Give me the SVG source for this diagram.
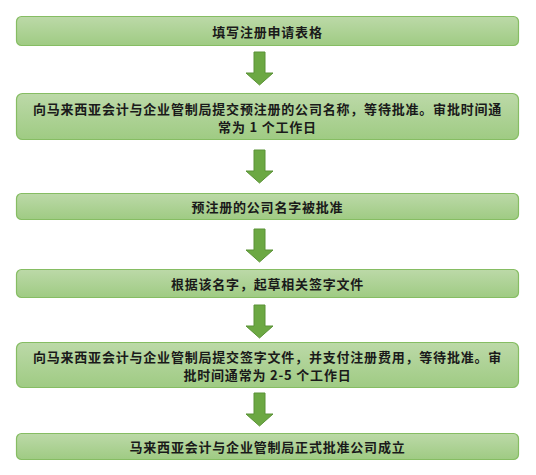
<svg xmlns="http://www.w3.org/2000/svg" width="536" height="475" viewBox="0 0 536 475">
<defs>
<linearGradient id="boxg" x1="0" y1="0" x2="0" y2="1">
<stop offset="0" stop-color="#bcd9a8"/>
<stop offset="1" stop-color="#9fcb83"/>
</linearGradient>
<style>
.box{fill:url(#boxg);stroke:#86bd63;stroke-width:1.2}
.arr{fill:#6ca843;stroke:#5a9236;stroke-width:1}
.t{font-family:"Noto Sans CJK SC","Liberation Sans",sans-serif;font-size:13px;font-weight:bold;fill:#1a1a1a;text-anchor:middle;dominant-baseline:central;letter-spacing:0.8px}
</style>
</defs>
<rect width="536" height="475" fill="#ffffff"/>
<g id="connectors">
<polygon class="arr" points="254,52 265,52 265,73 273,73 259.5,85 246,73 254,73"/>
<polygon class="arr" points="254,150 265,150 265,171 273,171 259.5,183 246,171 254,171"/>
<polygon class="arr" points="254,229 265,229 265,250 273,250 259.5,262 246,250 254,250"/>
<polygon class="arr" points="254,305 265,305 265,326 273,326 259.5,338 246,326 254,326"/>
<polygon class="arr" points="254,393 265,393 265,414 273,414 259.5,426 246,414 254,414"/>
</g>
<g id="node1">
<rect class="box" x="16.5" y="16.5" width="502" height="29" rx="5"/>
<text class="t" x="267.5" y="31">填写注册申请表格</text>
</g>
<g id="node2">
<rect class="box" x="16.5" y="93.5" width="502" height="46" rx="6"/>
<text class="t" x="267.5" y="108">向马来西亚会计与企业管制局提交预注册的公司名称，等待批准。审批时间通</text>
<text class="t" x="267.5" y="126">常为 1 个工作日</text>
</g>
<g id="node3">
<rect class="box" x="16.5" y="193.5" width="502" height="26" rx="5"/>
<text class="t" x="267.5" y="206.5">预注册的公司名字被批准</text>
</g>
<g id="node4">
<rect class="box" x="16.5" y="269.5" width="502" height="28" rx="5"/>
<text class="t" x="267.5" y="283.5">根据该名字，起草相关签字文件</text>
</g>
<g id="node5">
<rect class="box" x="16.5" y="342.5" width="502" height="45" rx="6"/>
<text class="t" x="267.5" y="356.5">向马来西亚会计与企业管制局提交签字文件，并支付注册费用，等待批准。审</text>
<text class="t" x="267.5" y="374.5">批时间通常为 2-5 个工作日</text>
</g>
<g id="node6">
<rect class="box" x="16.5" y="433.5" width="502" height="26" rx="5"/>
<text class="t" x="267.5" y="446.5">马来西亚会计与企业管制局正式批准公司成立</text>
</g>
</svg>
